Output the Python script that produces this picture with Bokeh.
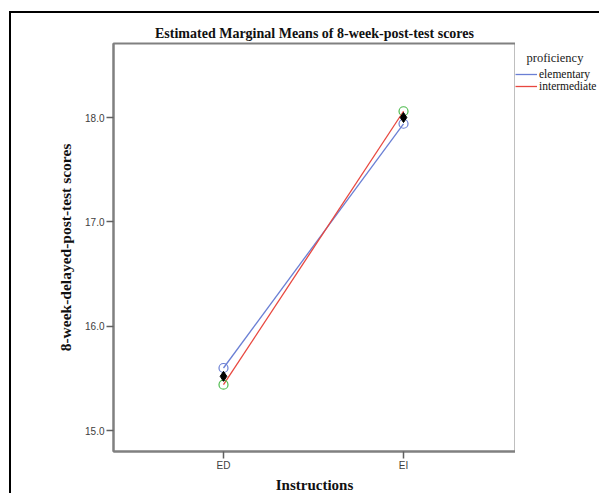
from bokeh.plotting import figure
from bokeh.layouts import row
from bokeh.models import Range1d, FixedTicker, Legend, LegendItem, Label
from bokeh.embed import file_html
from bokeh.resources import INLINE

# data
instructions = ["ED", "EI"]
x_pos = [1, 2]
elementary = [15.60, 17.94]
intermediate = [15.44, 18.06]
overall = [15.52, 18.00]
y_ticks = [15.0, 16.0, 17.0, 18.0]
series_names = ["elementary", "intermediate"]

SERIF = "Liberation Serif"
SANS = "Liberation Sans"
BLUE, RED, GREEN = "#6a7fd4", "#e8473f", "#4dbb4d"

p = figure(width=506, height=482, output_backend="svg", toolbar_location=None,
           x_range=Range1d(0.389, 2.622), y_range=Range1d(14.80, 18.709),
           min_border_left=102, min_border_right=2, min_border_top=30,
           min_border_bottom=44)
p.styles = {"border-left": "2px solid black", "border-top": "2px solid black",
            "margin-left": "9px", "margin-top": "11px"}

p.title.text = "Estimated Marginal Means of 8-week-post-test scores"
p.title.align = "center"
p.title.text_font = SERIF
p.title.text_font_style = "bold"
p.title.text_font_size = "14px"
p.title.text_color = "#111111"
p.title.standoff = 5

p.grid.visible = False
p.outline_line_color = "#808080"
p.outline_line_width = 2
p.background_fill_color = "white"
p.border_fill_color = "white"

# axes
for ax in (p.xaxis[0], p.yaxis[0]):
    ax.axis_line_color = "#808080"
    ax.axis_line_width = 2
    ax.major_tick_line_color = "#606060"
    ax.major_tick_line_width = 1.5
    ax.major_tick_in = 0
    ax.major_tick_out = 7
    ax.minor_tick_line_color = None
    ax.major_label_text_font = SANS
    ax.major_label_text_font_size = "10px"
    ax.major_label_text_color = "#404040"
    ax.axis_label_text_font = SERIF
    ax.axis_label_text_font_style = "bold"
    ax.axis_label_text_font_size = "15px"
    ax.axis_label_text_color = "#111111"

p.xaxis.ticker = FixedTicker(ticks=x_pos)
p.xaxis.major_label_overrides = {x: lab for x, lab in zip(x_pos, instructions)}
p.xaxis.major_label_standoff = 1
p.xaxis.axis_label = "Instructions"
p.xaxis.axis_label_standoff = 3

p.yaxis.ticker = FixedTicker(ticks=y_ticks)
p.yaxis.major_label_overrides = {v: f"{v:.1f}" for v in y_ticks}
p.yaxis.axis_label = "8-week-delayed-post-test scores"
p.yaxis.axis_label_text_font_size = "15.5px"
p.yaxis.major_label_standoff = 2
p.yaxis.axis_label_standoff = 8

# lines and markers
p.line(x_pos, elementary, line_color=BLUE, line_width=1.3)
p.line(x_pos, intermediate, line_color=RED, line_width=1.3)
p.scatter(x_pos, elementary, marker="circle", size=9, fill_color=None,
          line_color=BLUE, line_width=1.2)
p.scatter(x_pos, intermediate, marker="circle", size=9, fill_color=None,
          line_color=GREEN, line_width=1.2)
p.scatter(x_pos, overall, marker="diamond", size=10, fill_color="black",
          line_color="black")

# legend panel (separate figure to the right of the plot box; its frame is
# aligned with the main plot's frame by the row layout)
lg = figure(width=84, height=482, output_backend="svg", toolbar_location=None,
            x_axis_type=None, y_axis_type=None,
            x_range=Range1d(10, 11), y_range=Range1d(10, 11),
            min_border_left=0, min_border_right=0, min_border_top=0,
            min_border_bottom=0)
lg.styles = {"border-top": "2px solid black", "margin-top": "11px"}
lg.grid.visible = False
lg.outline_line_color = None
lg.background_fill_color = "white"
lg.border_fill_color = "white"
r1 = lg.line(x_pos, elementary, line_color=BLUE, line_width=1.3)
r2 = lg.line(x_pos, intermediate, line_color=RED, line_width=1.3)

lg.add_layout(Label(x=11, y=394, x_units="screen", y_units="screen",
                    text="proficiency", text_font=SERIF, text_font_size="12.5px",
                    text_align="left", text_baseline="middle", text_color="#222222"))
legend = Legend(items=[LegendItem(label=series_names[0], renderers=[r1]),
                       LegendItem(label=series_names[1], renderers=[r2])],
                location=(0, 359), orientation="vertical")
legend.glyph_width = 22
legend.glyph_height = 12
legend.label_height = 12
legend.label_standoff = 2
legend.spacing = 0
legend.padding = 0
legend.margin = 0
legend.border_line_color = None
legend.background_fill_alpha = 0
legend.label_text_font = SERIF
legend.label_text_font_size = "11.5px"
legend.label_text_color = "#111111"
lg.add_layout(legend)

layout = row(p, lg, spacing=0)
open("out.html", "w").write(file_html(layout, INLINE))
